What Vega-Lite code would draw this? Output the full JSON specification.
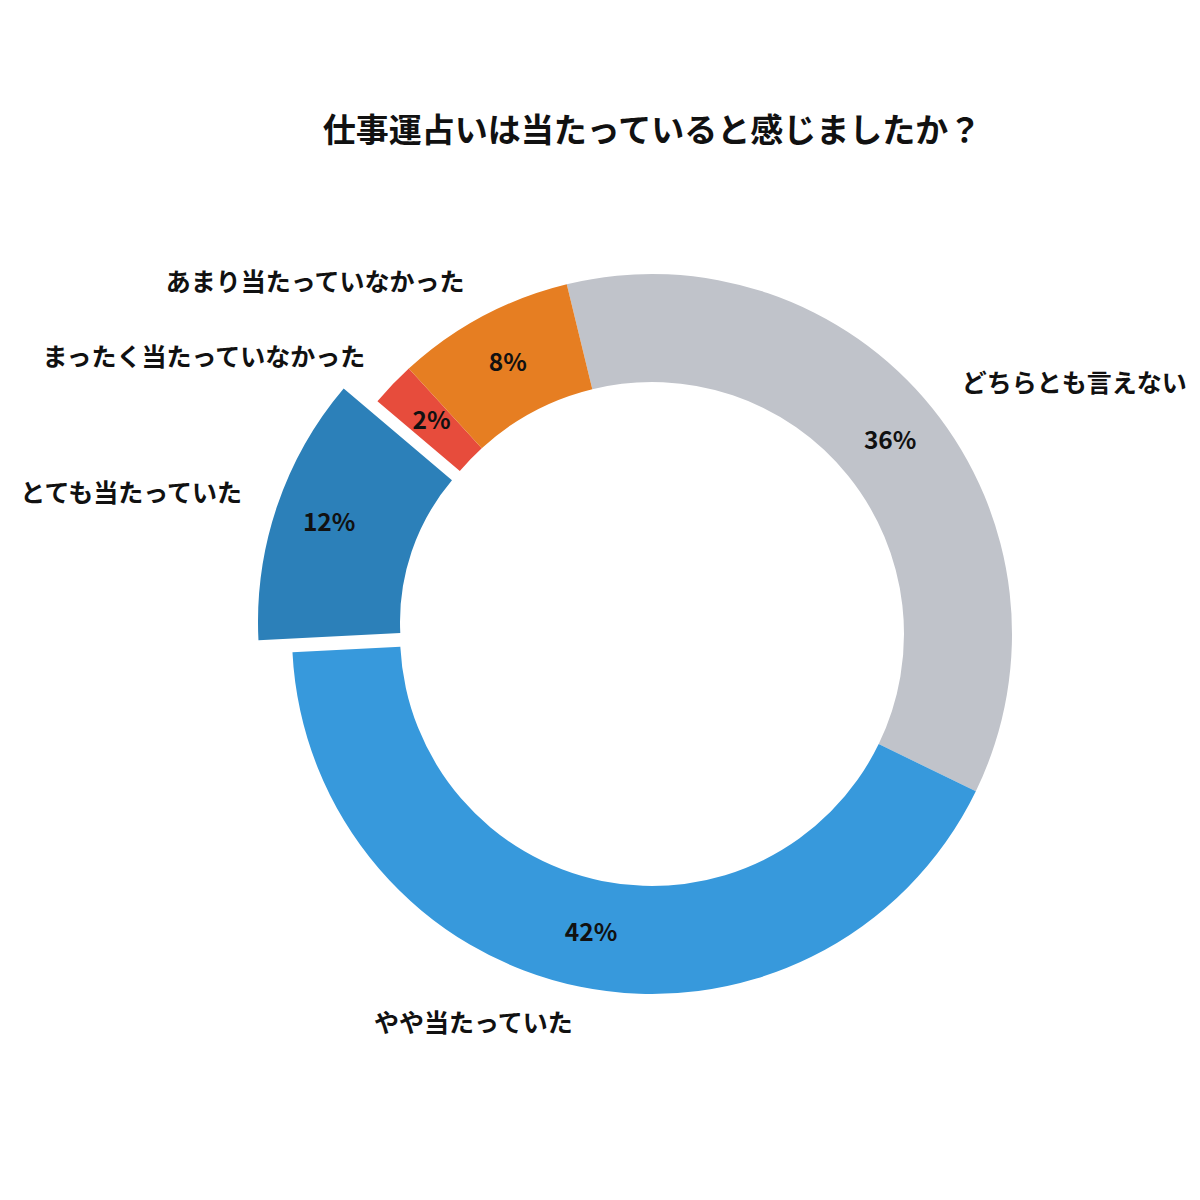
{
  "$schema": "https://vega.github.io/schema/vega-lite/v6.json",
  "width": 1000,
  "height": 900,
  "autosize": "none",
  "padding": {"left": 152, "top": 184, "right": 48, "bottom": 116},
  "background": "white",
  "title": {
    "text": "仕事運占いは当たっていると感じましたか？",
    "font": "Noto Sans CJK JP",
    "fontSize": 33,
    "fontWeight": "bold",
    "color": "#111111",
    "anchor": "middle",
    "offset": 35
  },
  "config": {"view": {"stroke": null}},
  "data": {
    "values": [
      {"category": "どちらとも言えない", "share": 0.36},
      {"category": "やや当たっていた", "share": 0.42},
      {"category": "とても当たっていた", "share": 0.12},
      {"category": "まったく当たっていなかった", "share": 0.02},
      {"category": "あまり当たっていなかった", "share": 0.08}
    ]
  },
  "transform": [{"window": [{"op": "row_number", "as": "rank"}]}],
  "encoding": {
    "theta": {
      "field": "share",
      "type": "quantitative",
      "stack": true,
      "scale": {"range": [-0.2391, 6.0441]}
    },
    "order": {"field": "rank", "type": "quantitative"}
  },
  "layer": [
    {
      "mark": {"type": "arc", "innerRadius": 252, "outerRadius": 360},
      "encoding": {
        "color": {
          "field": "category",
          "type": "nominal",
          "legend": null,
          "scale": {
            "domain": ["どちらとも言えない", "やや当たっていた", "とても当たっていた", "まったく当たっていなかった", "あまり当たっていなかった"],
            "range": ["#c0c3ca", "#3799dc", "#2c80b9", "#e74c3c", "#e67e22"]
          }
        },
        "opacity": {
          "condition": {"test": "datum.category === 'とても当たっていた'", "value": 0},
          "value": 1
        }
      }
    },
    {
      "mark": {"type": "arc", "innerRadius": 219, "outerRadius": 361, "xOffset": -33, "yOffset": -12},
      "encoding": {
        "color": {"field": "category", "type": "nominal", "legend": null},
        "opacity": {
          "condition": {"test": "datum.category === 'とても当たっていた'", "value": 1},
          "value": 0
        }
      }
    },
    {
      "mark": {"type": "text", "radius": 306, "font": "Noto Sans CJK JP", "fontSize": 24.5, "fontWeight": "bold", "color": "#111111", "align": "center", "baseline": "middle"},
      "encoding": {
        "text": {
          "condition": {"test": "datum.category !== 'とても当たっていた'", "field": "share", "type": "quantitative", "format": ".0%"},
          "value": ""
        }
      }
    },
    {
      "mark": {"type": "text", "radius": 306, "xOffset": -33, "yOffset": -12, "font": "Noto Sans CJK JP", "fontSize": 24.5, "fontWeight": "bold", "color": "#111111", "align": "center", "baseline": "middle"},
      "encoding": {
        "text": {
          "condition": {"test": "datum.category === 'とても当たっていた'", "field": "share", "type": "quantitative", "format": ".0%"},
          "value": ""
        }
      }
    },
    {
      "mark": {"type": "text", "radius": 398, "font": "Noto Sans CJK JP", "fontSize": 25, "fontWeight": "bold", "color": "#111111", "align": "left", "baseline": "middle"},
      "encoding": {
        "text": {
          "condition": {"test": "datum.category === 'どちらとも言えない'", "field": "category", "type": "nominal"},
          "value": ""
        }
      }
    },
    {
      "mark": {"type": "text", "radius": 398, "font": "Noto Sans CJK JP", "fontSize": 25, "fontWeight": "bold", "color": "#111111", "align": "right", "baseline": "middle"},
      "encoding": {
        "text": {
          "condition": {"test": "datum.category !== 'どちらとも言えない' && datum.category !== 'とても当たっていた'", "field": "category", "type": "nominal"},
          "value": ""
        }
      }
    },
    {
      "mark": {"type": "text", "radius": 398, "xOffset": -33, "yOffset": -12, "font": "Noto Sans CJK JP", "fontSize": 25, "fontWeight": "bold", "color": "#111111", "align": "right", "baseline": "middle"},
      "encoding": {
        "text": {
          "condition": {"test": "datum.category === 'とても当たっていた'", "field": "category", "type": "nominal"},
          "value": ""
        }
      }
    }
  ]
}
